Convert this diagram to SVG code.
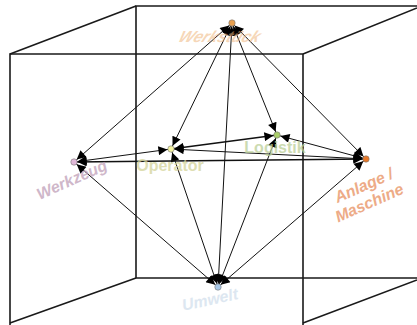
<svg xmlns="http://www.w3.org/2000/svg" width="417" height="325" viewBox="0 0 417 325">
<style>
.cube{fill:none;stroke:#1a1a1a;stroke-width:1.6}
.edge{fill:none;stroke:#111;stroke-width:1;marker-start:url(#arr);marker-end:url(#arr)}
.dot{stroke:#777;stroke-width:0.6}
.lbl{font-family:"Liberation Sans",Arial,sans-serif;font-weight:bold;font-size:16px;text-anchor:middle;opacity:0.75}
</style>
<defs>
<marker id="arr" viewBox="0 0 10 10" refX="14" refY="5" markerWidth="10" markerHeight="9" markerUnits="userSpaceOnUse" orient="auto-start-reverse">
<path d="M0,0 L10,5 L0,10 z" fill="#000"/>
</marker>
</defs>
<rect width="417" height="325" fill="#fff"/>
<g id="cube">
<path class="cube" d="M136,278 V6 H417 M136,278 H417"/>
<path class="cube" d="M10,325 V54 H303 V325"/>
<path class="cube" d="M10,54 L136,6 M303,54 L417,8 M10,323 L136,278 M303,323 L417,280"/>
</g>
<g id="connectors">
<line class="edge" x1="232" y1="23" x2="74" y2="162"/>
<line class="edge" x1="232" y1="23" x2="171" y2="149"/>
<line class="edge" x1="232" y1="23" x2="218" y2="287"/>
<line class="edge" x1="232" y1="23" x2="277" y2="135"/>
<line class="edge" x1="232" y1="23" x2="366" y2="159"/>
<line class="edge" x1="218" y1="287" x2="74" y2="162"/>
<line class="edge" x1="218" y1="287" x2="171" y2="149"/>
<line class="edge" x1="218" y1="287" x2="277" y2="135"/>
<line class="edge" x1="218" y1="287" x2="366" y2="159"/>
<line class="edge" x1="74" y1="162" x2="171" y2="149"/>
<line class="edge" x1="171" y1="149" x2="277" y2="135" style="stroke-width:1.6"/>
<line class="edge" x1="171" y1="149" x2="366" y2="159"/>
<line class="edge" x1="277" y1="135" x2="366" y2="159"/>
<line class="edge" x1="74" y1="162" x2="366" y2="159" style="stroke-width:1.4"/>
</g>
<g id="node-werkstueck">
<text class="lbl" x="218" y="42" transform="skewX(-25) translate(19,0)" style="font-style:italic;fill:#f0b880;opacity:0.55" font-weight="normal">Werkstück</text>
<circle class="dot" cx="232" cy="23" r="3.2" fill="#e8a050"/>
</g>
<g id="node-werkzeug">
<text class="lbl" x="72" y="185" transform="rotate(-24 72 180)" style="fill:#c0a0b8;font-style:italic">Werkzeug</text>
<circle class="dot" cx="74" cy="162" r="3.2" fill="#e0b8d8"/>
</g>
<g id="node-operator">
<text class="lbl" x="170" y="171" style="fill:#d4d49a">Operator</text>
<circle class="dot" cx="171" cy="149" r="3.2" fill="#f2f0a0"/>
</g>
<g id="node-logistik">
<text class="lbl" x="275" y="153" style="fill:#bcd098">Logistik</text>
<circle class="dot" cx="277" cy="135" r="3.2" fill="#a8cc68"/>
</g>
<g id="node-anlage">
<text class="lbl" transform="rotate(-24 368 195)" style="fill:#e89060;font-style:italic"><tspan x="368" y="190">Anlage /</tspan><tspan x="366" y="208">Maschine</tspan></text>
<circle class="dot" cx="366" cy="159" r="3.2" fill="#e87828"/>
</g>
<g id="node-umwelt">
<text class="lbl" x="210" y="305" transform="rotate(-12 210 300)" style="font-style:italic;fill:#c8d8e8;opacity:0.6">Umwelt</text>
<circle class="dot" cx="218" cy="287" r="3.2" fill="#a8c8e8"/>
</g>
</svg>
